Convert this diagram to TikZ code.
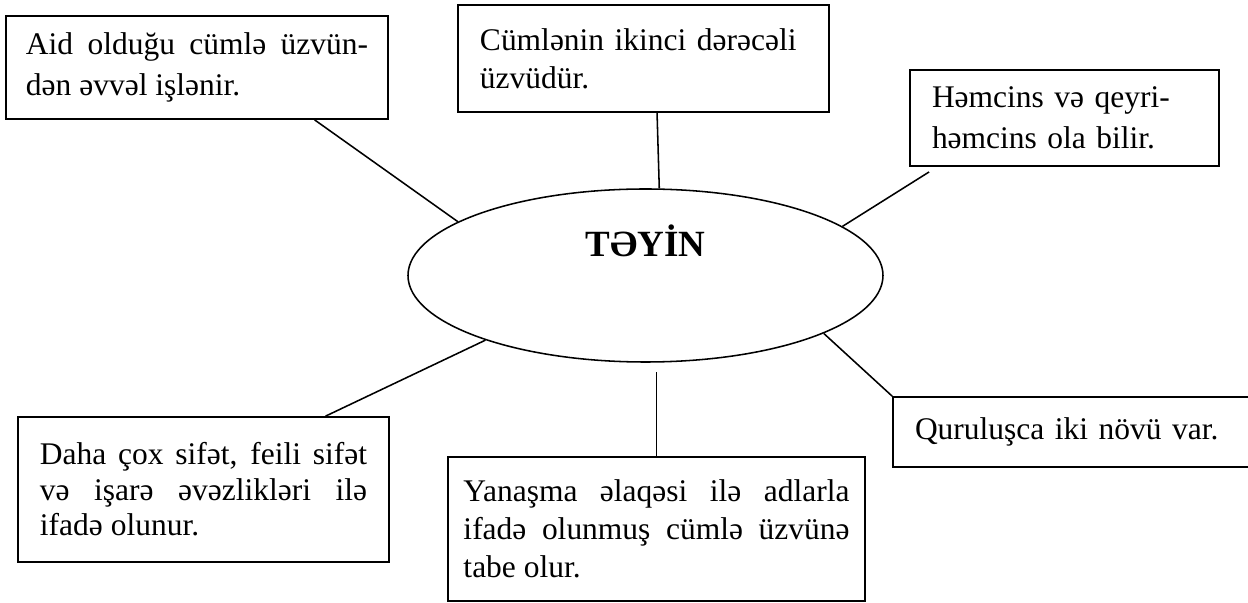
\documentclass[tikz,border=0pt]{standalone}
\usepackage{fontspec}
\setmainfont{Liberation Serif}
\usetikzlibrary{positioning,calc,shapes.geometric}

\tikzset{
    fact/.style={draw, rectangle, line width=1.2pt, inner ysep=0pt, font=\fontsize{22.4}{27}\selectfont},
    loose/.style={font=\fontsize{22.4}{29.5}\selectfont},
    tight/.style={font=\fontsize{22.4}{25.2}\selectfont},
    link/.style={line width=1.1pt},
}

\begin{document}
\begin{tikzpicture}
        \useasboundingbox (-16.1375,-8.1875) rectangle (15.0625,6.8875);

        % Middle ellipse
        \node[draw, ellipse, line width=1.1pt, minimum width=11.875cm, minimum height=4.325cm, inner sep=0pt] (core) at (0,0) {};
        \node[anchor=base, font=\fontsize{26.3}{30}\selectfont\bfseries] (title) at (0,0.4625) {TƏYİN};

        % Upper boxes
        \node[fact, loose, text width=8.55cm, inner xsep=0.5cm, minimum height=2.575cm, align=justify] (aid) at (-11.2125,5.2) {Aid olduğu cümlə üzvün-\linebreak dən əvvəl işlənir.};
        \node[fact, text width=8.175cm, inner xsep=0.55cm, minimum height=2.675cm, align=left] (cum) at (-0.05,5.425) {Cümlənin ikinci dərəcəli\\üzvüdür.};
        \node[fact, loose, text width=6.625cm, inner xsep=0.55cm, minimum height=2.4cm, align=left] (hem) at (10.475,3.9375) {Həmcins və qeyri-\\həmcins ola bilir.};

        % Lower boxes
        \node[fact, tight, text width=8.175cm, inner xsep=0.55cm, minimum height=3.625cm, align=justify] (daha) at (-11.05,-5.35) {Daha çox sifət, feili sifət\linebreak və işarə əvəzlikləri ilə\linebreak ifadə olunur.};
        \node[fact, text width=9.65cm, inner xsep=0.3875cm, minimum height=3.6cm, align=justify] (yan) at (0.275,-6.3375) {Yanaşma əlaqəsi ilə adlarla\linebreak ifadə olunmuş cümlə üzvünə\linebreak tabe olur.};
        \node[fact, text width=7.875cm, inner xsep=0.55cm, minimum height=1.75cm, align=left] (qur) at (10.675,-3.9125) {Quruluşca iki növü var.};

        % Lines between boxes and ellipse
        \draw[link] (aid.-24) -- (core.164);
        \draw[link] (cum.-76) -- (core.81.8);
        \draw[link, shorten <=0.24cm] (hem.-159.1) -- (core.14.4);
        \draw[link] (daha.31.2) -- (core.202);
        \draw[link, shorten >=0.23cm] (yan.north) -- (yan.north |- core.south);
        \draw[link] (qur.north west) -- (core.-18.6);

\end{tikzpicture}
\end{document}
